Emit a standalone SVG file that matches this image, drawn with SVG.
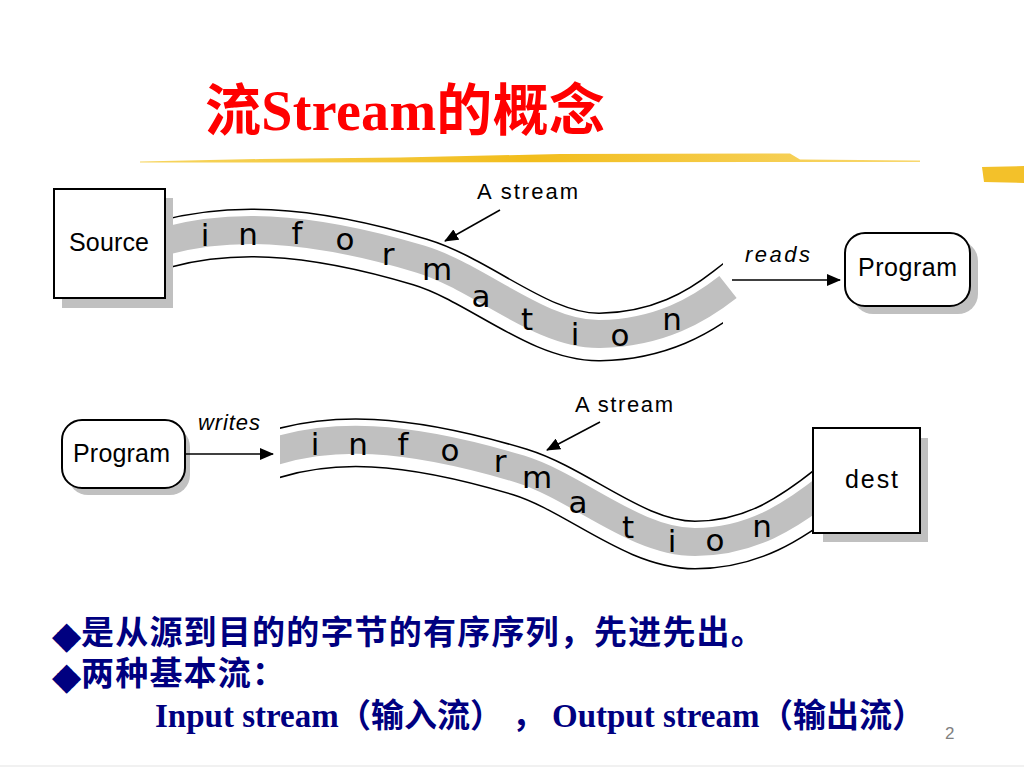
<svg xmlns="http://www.w3.org/2000/svg" width="1024" height="768" viewBox="0 0 1024 768">
<defs>
<style>
.box{fill:#fff;stroke:#000;stroke-width:2}
.shadow{fill:#c0c0c0}
.lbl{font-family:"Liberation Sans",Arial,sans-serif;font-size:25px;fill:#000}
.lbl-i{font-family:"Liberation Sans",Arial,sans-serif;font-size:22px;font-style:italic;fill:#000}
.lt{font-family:"DejaVu Sans","Liberation Sans",sans-serif;font-size:31px;fill:#000;text-anchor:middle}
.edge{stroke:#000;stroke-width:1.5;fill:none}
.rail-b{fill:none;stroke:#000;stroke-width:49}
.rail-w{fill:none;stroke:#fff;stroke-width:46}
.band{fill:none;stroke:#c0c0c0;stroke-width:28}
.cn{font-family:"Liberation Serif","Noto Sans CJK SC",serif;font-weight:bold;fill:#000080;font-size:33px}
.dia{font-family:"DejaVu Sans",sans-serif;fill:#000080;font-size:38px}
</style>
<marker id="arrow" markerUnits="userSpaceOnUse" viewBox="0 0 14 12" markerWidth="14" markerHeight="12" refX="13" refY="6" orient="auto">
<path d="M0,0 L14,6 L0,12 Z" fill="#000"/>
</marker>
<linearGradient id="gold" x1="0" y1="0" x2="1" y2="0">
<stop offset="0" stop-color="#f6d560"/>
<stop offset="0.5" stop-color="#f2bd1c"/>
<stop offset="1" stop-color="#f8d870"/>
</linearGradient>
<clipPath id="clipTop"><rect x="0" y="0" width="723" height="400"/></clipPath>
<clipPath id="clipBot"><rect x="280" y="380" width="744" height="220"/></clipPath>
<path id="s1" d="M165,244 C225,228 300,226 420,262 C480,280 540,338 600,337 C660,336 700,312 728,290 L745,277"/>
<path id="s1g" d="M165,244 C225,228 300,226 420,262 C480,280 540,338 600,337 C660,336 700,312 728,290"/>
<path id="s2" d="M272,455 C330,437 400,436 520,472 C578,490 635,545 695,545 C750,545 790,520 830,488"/>
</defs>
<rect width="1024" height="768" fill="#fff"/>

<g id="title">
<text x="205" y="130" font-family="Liberation Serif,'Noto Sans CJK SC',serif" font-weight="bold" font-size="56" fill="#ff0000" textLength="400" lengthAdjust="spacing">流Stream的概念</text>
<path d="M140,161.5 L260,159 L400,157.5 L560,154 L790,153.5 L800,159.5 L920,160.5 L920,162 L140,162.5 Z" fill="url(#gold)"/>
<path d="M982,167 L1024,166 L1024,183 L984,182 Z" fill="#f3c12a"/>
</g>

<g id="stream1">
<g clip-path="url(#clipTop)">
<use href="#s1" class="rail-b"/>
<use href="#s1" class="rail-w"/>
</g>
<use href="#s1g" class="band" transform="translate(0,-3)"/>
<text class="lt" x="205" y="246">i</text>
<text class="lt" x="248" y="245">n</text>
<text class="lt" x="297" y="244">f</text>
<text class="lt" x="345" y="250">o</text>
<text class="lt" x="388" y="265">r</text>
<text class="lt" x="437" y="280">m</text>
<text class="lt" x="481" y="307">a</text>
<text class="lt" x="527" y="330">t</text>
<text class="lt" x="575" y="345">i</text>
<text class="lt" x="620" y="346">o</text>
<text class="lt" x="672" y="330">n</text>
</g>

<g id="stream2">
<g clip-path="url(#clipBot)">
<use href="#s2" class="rail-b"/>
<use href="#s2" class="rail-w"/>
<use href="#s2" class="band" transform="translate(0,-3)"/>
</g>
<text class="lt" x="315" y="455">i</text>
<text class="lt" x="358" y="455">n</text>
<text class="lt" x="403" y="455">f</text>
<text class="lt" x="450" y="461">o</text>
<text class="lt" x="500" y="472">r</text>
<text class="lt" x="537" y="488">m</text>
<text class="lt" x="578" y="513">a</text>
<text class="lt" x="628" y="538">t</text>
<text class="lt" x="672" y="552">i</text>
<text class="lt" x="715" y="551">o</text>
<text class="lt" x="762" y="537">n</text>
</g>

<g id="source">
<rect class="shadow" x="62" y="198" width="111" height="110"/>
<rect class="box" x="54" y="189" width="111" height="109"/>
<text class="lbl" x="69" y="251" textLength="80" lengthAdjust="spacing">Source</text>
</g>

<g id="program-top">
<rect class="shadow" x="853" y="241" width="125" height="73" rx="20"/>
<rect class="box" x="845" y="233" width="125" height="73" rx="20"/>
<text class="lbl" x="858" y="276" textLength="99" lengthAdjust="spacing">Program</text>
</g>

<g id="program-bottom">
<rect class="shadow" x="68" y="427" width="122" height="68" rx="20"/>
<rect class="box" x="62" y="420" width="123" height="68" rx="20"/>
<text class="lbl" x="73" y="462" textLength="97" lengthAdjust="spacing">Program</text>
</g>

<g id="dest">
<rect class="shadow" x="823" y="438" width="105" height="104"/>
<rect class="box" x="813" y="428" width="107" height="105"/>
<text class="lbl" x="845" y="488" textLength="53" lengthAdjust="spacing">dest</text>
</g>

<g id="labels">
<text class="lbl" x="477" y="199" style="font-size:22px" textLength="101" lengthAdjust="spacing">A stream</text>
<text class="lbl" x="575" y="412" style="font-size:22px" textLength="98" lengthAdjust="spacing">A stream</text>
<text class="lbl-i" x="745" y="262" textLength="65" lengthAdjust="spacing">reads</text>
<text class="lbl-i" x="198" y="430" textLength="62" lengthAdjust="spacing">writes</text>
</g>

<g id="connectors">
<line class="edge" x1="500" y1="210" x2="445" y2="241" marker-end="url(#arrow)"/>
<line class="edge" x1="732" y1="280" x2="840" y2="280" marker-end="url(#arrow)"/>
<line class="edge" x1="185" y1="454" x2="273" y2="454" marker-end="url(#arrow)"/>
<line class="edge" x1="600" y1="422" x2="547" y2="450" marker-end="url(#arrow)"/>
</g>

<g id="bullets">
<text class="dia" x="52" y="648">◆</text>
<text class="cn" x="81" y="644" letter-spacing="1.2">是从源到目的的字节的有序序列，先进先出。</text>
<text class="dia" x="52" y="689">◆</text>
<text class="cn" x="81" y="685" letter-spacing="1.2">两种基本流：</text>
<text class="cn" y="727"><tspan x="155">Input stream</tspan><tspan x="338">（输入流）</tspan><tspan x="512">，</tspan><tspan x="552">Output stream</tspan><tspan x="760">（输出流）</tspan></text>
</g>

<text x="945" y="739" font-family="Liberation Sans,Arial,sans-serif" font-size="17" fill="#808080">2</text>
<line x1="0" y1="766" x2="1024" y2="766" stroke="#ececec" stroke-width="1.5"/>
</svg>
